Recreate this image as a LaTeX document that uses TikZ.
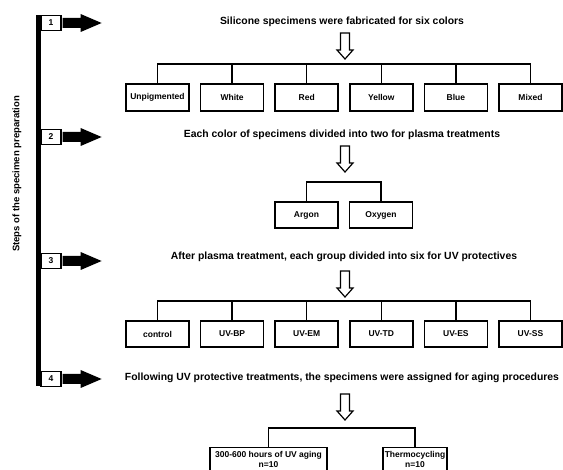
\documentclass[tikz,border=0pt]{standalone}
\usepackage{fontspec}
\setmainfont{Liberation Sans}
\begin{document}
\begin{tikzpicture}[x=1pt,y=-1pt,
  title/.style={font=\fontsize{10.4}{12}\selectfont\bfseries, inner sep=0pt},
  box/.style={draw, line width=1.5pt, minimum width=63pt, minimum height=27pt, inner sep=0pt, font=\fontsize{8.5}{10}\selectfont\bfseries},
  stepnum/.style={draw, line width=1.2pt, minimum width=20pt, minimum height=15pt, inner sep=0pt, fill=white, font=\fontsize{8.5}{9}\selectfont\bfseries},
  link/.style={line width=1.3pt},
  fatarrow/.pic={\fill (0,-5) -- (18,-5) -- (18,-9) -- (39,0) -- (18,9) -- (18,5) -- (0,5) -- cycle;},
  downarrow/.pic={\draw[line width=1.2pt, fill=white, line join=miter] (-4.5,0) -- (4.5,0) -- (4.5,17) -- (8,17) -- (0,26) -- (-8,17) -- (-4.5,17) -- cycle;}
]
\useasboundingbox (0,0) rectangle (563,470);
\clip (0,0) rectangle (563,470);
\fill[white] (0,0) rectangle (563,470);

% left timeline
\node[rotate=90, font=\fontsize{9.5}{11}\selectfont\bfseries] (lbl) at (17,174) {Steps of the specimen preparation};
\fill (36,15) rectangle (41,386);
\node[stepnum] (s1) at (51,23) {1};
\node[stepnum] (s2) at (51,137) {2};
\node[stepnum] (s3) at (51,261) {3};
\node[stepnum] (s4) at (51,379) {4};
\foreach \s in {s1,s2,s3,s4} \pic at ([xshift=1pt]\s.east) {fatarrow};

% step 1
\node[title] (t1) at (342,22) {Silicone specimens were fabricated for six colors};
\pic at (345,33) {downarrow};
\coordinate (b1) at (345,64);
\node[box] (unp) at (157.5,97.5) {Unpigmented};
\node[box] (whi) at (232.1,97.5) {White};
\node[box] (red) at (306.7,97.5) {Red};
\node[box] (yel) at (381.3,97.5) {Yellow};
\node[box] (blu) at (455.9,97.5) {Blue};
\node[box] (mix) at (530.5,97.5) {Mixed};
\draw[link] (unp.north) -- (unp.north |- b1) -| (mix.north);
\foreach \n in {whi,red,yel,blu} \draw[link] (\n.north) -- (\n.north |- b1);

% step 2
\node[title] (t2) at (342,135) {Each color of specimens divided into two for plasma treatments};
\pic at (345,146) {downarrow};
\coordinate (b2) at (345,182);
\node[box, minimum height=26pt] (arg) at (306.5,215) {Argon};
\node[box, minimum height=26pt] (oxy) at (381,215) {Oxygen};
\draw[link] (arg.north) -- (arg.north |- b2) -| (oxy.north);

% step 3
\node[title] (t3) at (344,257) {After plasma treatment, each group divided into six for UV protectives};
\pic at (345,271) {downarrow};
\coordinate (b3) at (345,301);
\node[box, minimum height=26pt] (ctl) at (157.5,334) {control};
\node[box, minimum height=26pt] (ubp) at (232.1,334) {UV-BP};
\node[box, minimum height=26pt] (uem) at (306.7,334) {UV-EM};
\node[box, minimum height=26pt] (utd) at (381.3,334) {UV-TD};
\node[box, minimum height=26pt] (ues) at (455.9,334) {UV-ES};
\node[box, minimum height=26pt] (uss) at (530.5,334) {UV-SS};
\draw[link] (ctl.north) -- (ctl.north |- b3) -| (uss.north);
\foreach \n in {ubp,uem,utd,ues} \draw[link] (\n.north) -- (\n.north |- b3);

% step 4
\node[title] (t4) at (342,378) {Following UV protective treatments, the specimens were assigned for aging procedures};
\pic at (345,394) {downarrow};
\coordinate (b4) at (345,428);
\node[box, minimum width=117pt, minimum height=24pt, align=center, font=\fontsize{8.5}{9.5}\selectfont\bfseries] (uva) at (268.5,459.5) {300-600 hours of UV aging\\n=10};
\node[box, minimum width=64pt, minimum height=24pt, align=center, font=\fontsize{8.5}{9.5}\selectfont\bfseries] (thc) at (415,459.5) {Thermocycling\\n=10};
\draw[link] (uva.north) -- (uva.north |- b4) -| (thc.north);
\end{tikzpicture}
\end{document}
